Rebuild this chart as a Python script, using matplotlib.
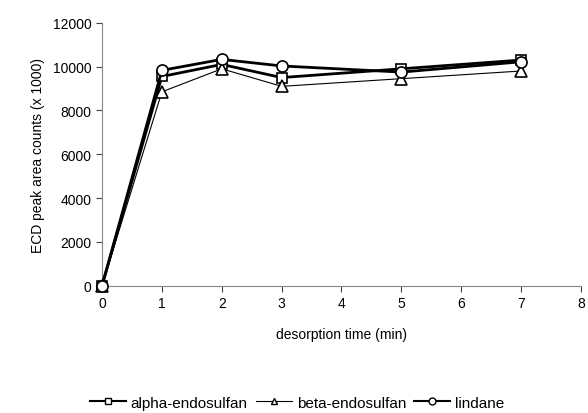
import matplotlib
matplotlib.use("Agg")
import matplotlib.pyplot as plt
from matplotlib.lines import Line2D

time = [0, 1, 2, 3, 5, 7]
alpha = [0, 9550, 10100, 9500, 9900, 10300]
beta = [0, 8850, 9900, 9100, 9450, 9800]
lindane = [0, 9830, 10330, 10030, 9750, 10220]

plt.rcParams['font.family'] = ['Liberation Sans', 'DejaVu Sans']
fig = plt.figure(figsize=(5.88, 4.14), dpi=100)
ax = fig.add_axes([0.1735, 0.3075, 0.8145, 0.635])

ax.plot(time, alpha, color='black', lw=2.0, marker='s', ms=7, mfc='white', mec='black', mew=1.2, label='alpha-endosulfan', clip_on=False, zorder=3)
ax.plot(time, beta, color='black', lw=0.8, marker='^', ms=8, mfc='white', mec='black', mew=1.2, label='beta-endosulfan', clip_on=False, zorder=3)
ax.plot(time, lindane, color='black', lw=2.0, marker='o', ms=8, mfc='white', mec='black', mew=1.2, label='lindane', clip_on=False, zorder=3)

ax.set_xlim(0, 8)
ax.set_ylim(0, 12000)
ax.set_xticks(range(0, 9))
ax.set_yticks(range(0, 12001, 2000))
for s in ['top', 'right']:
    ax.spines[s].set_visible(False)
for s in ['left', 'bottom']:
    ax.spines[s].set_color('#888888')
    ax.spines[s].set_linewidth(0.8)
ax.tick_params(direction='out', length=4, color='#444444', labelsize=10)
ax.set_xlabel('desorption time (min)', fontsize=10, labelpad=12)
ax.set_ylabel('ECD peak area counts (x 1000)', fontsize=10, labelpad=6)

handles = [
    Line2D([], [], color='black', lw=1.5, marker='s', ms=5, mfc='white', mec='black'),
    Line2D([], [], color='black', lw=0.8, marker='^', ms=5, mfc='white', mec='black'),
    Line2D([], [], color='black', lw=1.5, marker='o', ms=5, mfc='white', mec='black'),
]
fig.legend(handles, ['alpha-endosulfan', 'beta-endosulfan', 'lindane'], loc='center',
           bbox_to_anchor=(0.505, 0.025), ncol=3, frameon=False, fontsize=11,
           handlelength=2.4, handletextpad=0.3, columnspacing=0.5)

fig.savefig('out.png', dpi=100)
